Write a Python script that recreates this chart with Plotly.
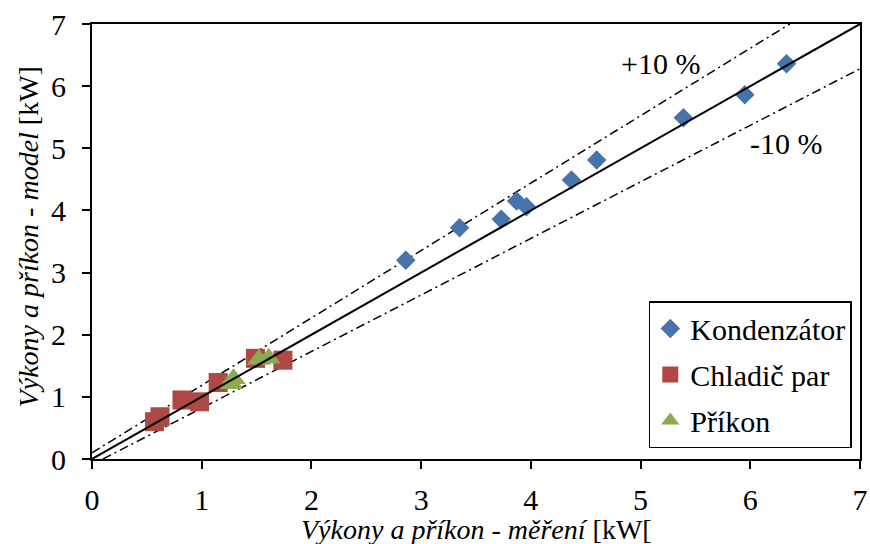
import plotly.graph_objects as go

# Data
kond_x = [2.86, 3.35, 3.73, 3.87, 3.96, 4.37, 4.60, 5.39, 5.95, 6.33]
kond_y = [3.20, 3.72, 3.86, 4.15, 4.06, 4.49, 4.81, 5.49, 5.86, 6.36]

chlad_x = [0.57, 0.62, 0.82, 0.98, 1.15, 1.49, 1.74]
chlad_y = [0.60, 0.68, 0.95, 0.92, 1.23, 1.62, 1.59]

prikon_x = [1.27, 1.29, 1.52, 1.61]
prikon_y = [1.21, 1.29, 1.60, 1.62]

# Reference lines
diag_x = [0, 7]
diag_y = [0, 7]
plus_x = [0, 6.36]
plus_y = [0.1, 7.0]
minus_x = [0.1, 7]
minus_y = [0.0, 6.28]

x_ticks = [0, 1, 2, 3, 4, 5, 6, 7]
y_ticks = [0, 1, 2, 3, 4, 5, 6, 7]

FONT = "Liberation Serif"
BLUE = "#4673AA"
RED = "#AE4844"
GREEN = "#8CAA50"
DASHDOT = "9px,4px,2px,4px"

fig = go.Figure()

fig.add_trace(go.Scatter(x=plus_x, y=plus_y, mode="lines",
                         line=dict(color="black", width=1.5, dash=DASHDOT),
                         showlegend=False, hoverinfo="skip"))
fig.add_trace(go.Scatter(x=minus_x, y=minus_y, mode="lines",
                         line=dict(color="black", width=1.5, dash=DASHDOT),
                         showlegend=False, hoverinfo="skip"))

fig.add_trace(go.Scatter(x=kond_x, y=kond_y, mode="markers", name="Kondenzátor",
                         legendgroup="a",
                         marker=dict(symbol="diamond", size=15, color=BLUE)))
fig.add_trace(go.Scatter(x=chlad_x, y=chlad_y, mode="markers", name="Chladič par",
                         legendgroup="b",
                         marker=dict(symbol="square", size=19, color=RED)))
fig.add_trace(go.Scatter(x=prikon_x, y=prikon_y, mode="markers", name="Příkon",
                         legendgroup="c",
                         marker=dict(symbol="triangle-up", size=21, color=GREEN)))

fig.add_trace(go.Scatter(x=diag_x, y=diag_y, mode="lines",
                         line=dict(color="black", width=2),
                         showlegend=False, hoverinfo="skip"))

fig.add_annotation(x=5.18, y=6.37, text="+10 %", showarrow=False,
                   font=dict(family=FONT, size=30, color="black"))
fig.add_annotation(x=6.33, y=5.08, text="-10 %", showarrow=False,
                   font=dict(family=FONT, size=30, color="black"))

fig.add_annotation(x=0.5, y=-0.163, xref="paper", yref="paper",
                   text="<i>Výkony a příkon - měření</i> [kW[", showarrow=False,
                   xanchor="center", yanchor="middle",
                   font=dict(family=FONT, size=28, color="black"))
fig.add_annotation(x=-0.083, y=0.51, xref="paper", yref="paper",
                   text="<i>Výkony a příkon - model</i> [kW]", showarrow=False,
                   textangle=-90, xanchor="center", yanchor="middle",
                   font=dict(family=FONT, size=28, color="black"))

fig.update_layout(
    width=870, height=544,
    autosize=False,
    margin=dict(l=92, r=10, t=24, b=85, autoexpand=False),
    paper_bgcolor="white", plot_bgcolor="white",
    font=dict(family=FONT, size=28, color="black"),
    showlegend=True,
    legend=dict(x=0.725, y=0.363, xanchor="left", yanchor="top",
                bgcolor="white", bordercolor="black", borderwidth=1.5,
                font=dict(family=FONT, size=30, color="black"),
                tracegroupgap=4, itemwidth=30),
    xaxis=dict(range=[0, 7], tickvals=x_ticks, showgrid=False, zeroline=False,
               showline=True, linecolor="black", linewidth=2, mirror=True,
               ticks="outside", ticklen=8, tickwidth=2, tickcolor="black",
               ticklabelstandoff=5, automargin=False,
               tickfont=dict(family=FONT, size=30, color="black")),
    yaxis=dict(range=[0, 7], tickvals=y_ticks, showgrid=False, zeroline=False,
               showline=True, linecolor="black", linewidth=2, mirror=True,
               ticks="outside", ticklen=8, tickwidth=2, tickcolor="black",
               ticklabelstandoff=10, automargin=False,
               tickfont=dict(family=FONT, size=30, color="black")),
)

fig.write_html("out.html")
